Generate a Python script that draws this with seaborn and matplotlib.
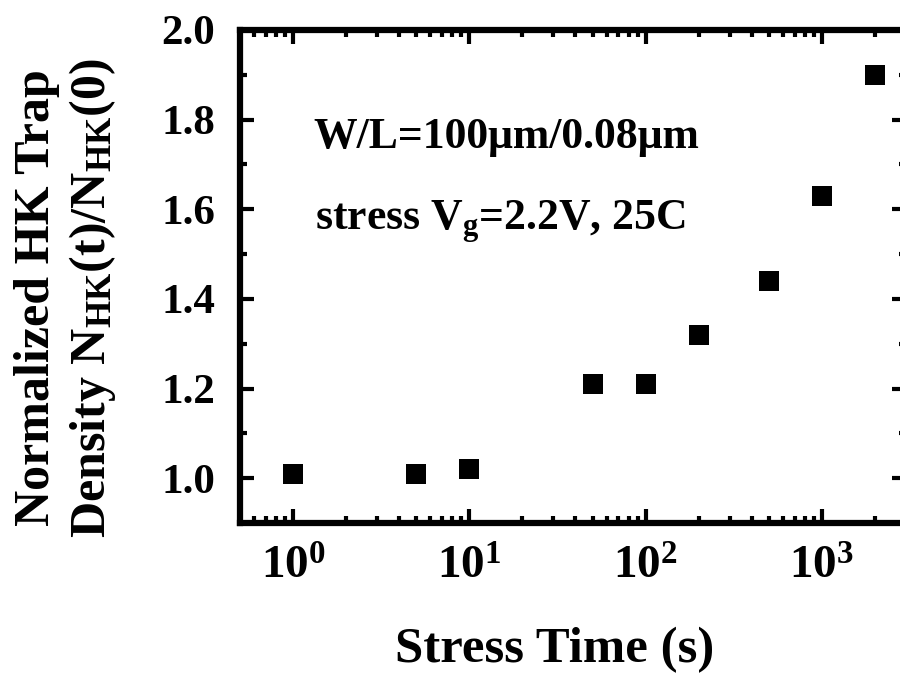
import matplotlib
matplotlib.use("Agg")
import matplotlib.pyplot as plt
from matplotlib.ticker import LogLocator, MultipleLocator, FixedLocator, FixedFormatter
import seaborn as sns
import pandas as pd

# Stress time (s) and normalized high-k trap density
stress_time = [1, 5, 10, 50, 100, 200, 500, 1000, 2000]
norm_density = [1.01, 1.01, 1.02, 1.21, 1.21, 1.32, 1.44, 1.63, 1.90]

y_ticks = [1.0, 1.2, 1.4, 1.6, 1.8, 2.0]
y_tick_labels = ["1.0", "1.2", "1.4", "1.6", "1.8", "2.0"]
x_ticks = [1, 10, 100, 1000]
x_tick_labels = [r"$\mathbf{10^{0}}$", r"$\mathbf{10^{1}}$", r"$\mathbf{10^{2}}$", r"$\mathbf{10^{3}}$"]

sns.set_theme(style="white")
plt.rcParams["font.family"] = ["Liberation Serif", "DejaVu Serif"]
plt.rcParams["font.weight"] = "bold"
plt.rcParams["text.color"] = "black"
plt.rcParams["axes.labelcolor"] = "black"
plt.rcParams["xtick.color"] = "black"
plt.rcParams["ytick.color"] = "black"
plt.rcParams["mathtext.fontset"] = "custom"
plt.rcParams["mathtext.rm"] = "Liberation Serif:bold"
plt.rcParams["mathtext.bf"] = "Liberation Serif:bold"
plt.rcParams["mathtext.it"] = "Liberation Serif:bold"

df = pd.DataFrame({"t": stress_time, "n": norm_density})

fig = plt.figure(figsize=(9, 6.75), dpi=100)
# the frame runs slightly past the right edge of the canvas
ax = fig.add_axes([240 / 900, 1 - 523 / 675, 666 / 900, 493 / 675])

sns.scatterplot(data=df, x="t", y="n", marker="s", color="black", s=190,
                linewidth=0, ax=ax, legend=False, clip_on=False)

ax.set_xscale("log")
ax.set_xlim(0.5, 3000)
ax.set_ylim(0.9, 2.0)

ax.xaxis.set_major_locator(FixedLocator(x_ticks))
ax.xaxis.set_major_formatter(FixedFormatter(x_tick_labels))
ax.xaxis.set_minor_locator(LogLocator(base=10, subs=range(2, 10)))
ax.yaxis.set_major_locator(FixedLocator(y_ticks))
ax.yaxis.set_major_formatter(FixedFormatter(y_tick_labels))
ax.yaxis.set_minor_locator(MultipleLocator(0.1))

for s in ax.spines.values():
    s.set_linewidth(4.5)
    s.set_color("black")

ax.tick_params(which="both", direction="in", top=True, right=True,
               bottom=True, left=True, color="black")
ax.tick_params(which="major", length=10, width=3, pad=18)
ax.tick_params(axis="y", which="major", labelsize=31)
ax.tick_params(axis="x", which="major", labelsize=34, pad=17)
ax.tick_params(which="minor", length=5, width=3)
for lab in ax.get_yticklabels():
    lab.set_fontweight("bold")

ax.set_xlabel("")
ax.set_ylabel("")

fig.text(555 / 900, 1 - 650 / 675, "Stress Time (s)", ha="center", va="center",
         fontsize=36.5, fontweight="bold")
fig.text(66 / 900, 1 - 298 / 675,
         "Normalized HK Trap\n" + r"Density N$_{\mathregular{HK}}$(t)/N$_{\mathregular{HK}}$(0)",
         rotation=90, ha="center", va="center", multialignment="center",
         fontsize=36, fontweight="bold", linespacing=1.2)

fig.text(313 / 900, 1 - 148 / 675, "W/L=100\u03bcm/0.08\u03bcm", ha="left",
         va="baseline", fontsize=31.5, fontweight="bold")
fig.text(315 / 900, 1 - 230 / 675, r"stress V$_{\mathregular{g}}$=2.2V, 25C", ha="left",
         va="baseline", fontsize=31.5, fontweight="bold")

fig.savefig("out.png", dpi=100)
